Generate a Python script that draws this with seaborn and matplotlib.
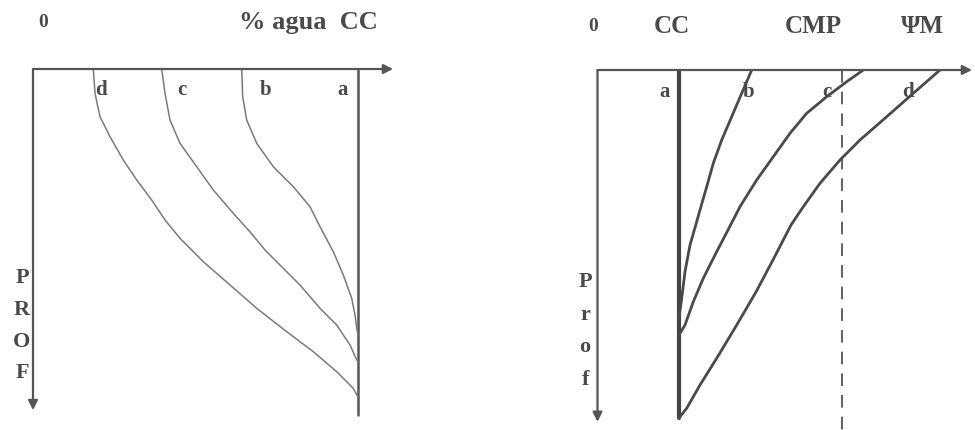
import matplotlib
matplotlib.use("Agg")
import numpy as np
import pandas as pd
import seaborn as sns
import matplotlib.pyplot as plt

# left panel: % water (CC = 100) vs depth (0-100)
left_d_x = [18.55, 19.08, 20.62, 23.69, 27.78, 31.91, 36.52, 40.62, 45.23, 52.40, 60.62,
            68.83, 78.06, 86.25, 93.45, 98.55, 100]
left_d_y = [0, 7.41, 14.54, 20.64, 27.74, 33.84, 39.94, 46.04, 51.62, 58.75, 65.85,
            72.96, 80.09, 86.19, 92.29, 97.35, 100]
left_c_x = [39.6, 40.62, 42.15, 45.23, 50.37, 55.48, 61.63, 67.08, 71.38, 76.0, 82.15,
            88.31, 93.45, 97.54, 99.38, 100]
left_c_y = [0, 7.41, 15.55, 22.65, 29.79, 36.89, 44.0, 50.0, 55.18, 59.76, 65.85,
            72.96, 78.05, 84.15, 88.20, 89.3]
left_b_x = [64.22, 64.52, 65.75, 68.83, 73.94, 80.09, 85.23, 88.31, 92.40, 95.48, 98.06,
            99.08, 99.6, 100]
left_b_y = [0, 8.45, 15.55, 22.65, 29.79, 35.88, 41.98, 48.08, 55.70, 62.80, 69.91,
            75.0, 79.05, 81.1]
left_cc = 100

# right panel: water potential (CC = 25, CMP = 75) vs depth (0-100)
right_b_x = [47.30, 44.23, 41.17, 38.10, 35.52, 33.50, 31.44, 29.88, 28.37, 26.84, 25.83, 25]
right_b_y = [0, 6.70, 13.42, 20.11, 26.81, 33.53, 40.23, 45.40, 50.29, 57.96, 65.60, 71.26]
right_c_x = [81.53, 76.44, 70.31, 64.17, 59.05, 53.93, 48.83, 43.71, 40.03, 36.56, 32.45,
             29.39, 26.84, 25]
right_c_y = [0, 3.36, 7.67, 12.44, 18.19, 24.91, 31.61, 39.28, 45.98, 52.21, 59.86,
             66.58, 73.28, 76.15]
right_d_x = [105.06, 96.87, 88.71, 80.52, 74.39, 68.25, 63.13, 59.36, 54.14, 48.62, 42.70,
             36.56, 31.44, 27.36, 25]
right_d_y = [0, 6.70, 13.42, 20.11, 25.86, 32.56, 39.28, 44.54, 54.02, 63.79, 73.28,
             82.84, 90.52, 97.21, 100]
right_cc = 25
right_cmp = 75

curve_labels = ["a", "b", "c", "d"]
left_label_x = [95.4, 71.4, 45.7, 20.9]
right_label_x = [20.7, 46.3, 70.4, 95.2]
left_axis_letters = ["P", "R", "O", "F"]
left_letter_y = [63.7, 73.5, 83.2, 92.7]
right_axis_letters = ["P", "r", "o", "f"]
right_letter_y = [60.9, 70.4, 79.6, 89.1]
right_top_labels = ["CC", "CMP", "ΨM"]
right_top_x = [22.9, 66.1, 99.8]

sns.set_style("white")
plt.rcParams['font.family'] = ['Liberation Serif', 'DejaVu Serif']

W, H = 975, 430
fig = plt.figure(figsize=(9.75, 4.3), dpi=100)

def make_ax(x0, y0, sx, sy, xmax, ymax):
    ax = fig.add_axes([x0 / W, 1 - (y0 + ymax * sy) / H, xmax * sx / W, ymax * sy / H])
    ax.set_xlim(0, xmax)
    ax.set_ylim(ymax, 0)
    ax.axis('off')
    return ax

line_col = '#7a7a7a'
text_col = '#4a4a4a'

def axis_arrows(ax, xtip, ytip):
    ap = dict(arrowstyle='-|>', color='#555555', lw=1.6, mutation_scale=14, shrinkA=0, shrinkB=0)
    ax.annotate('', xy=(xtip, 0), xytext=(0, 0), arrowprops=ap, annotation_clip=False)
    ax.annotate('', xy=(0, ytip), xytext=(0, 0), arrowprops=ap, annotation_clip=False)

def curve(ax, xs, ys, **kw):
    sns.lineplot(x=xs, y=ys, sort=False, estimator=None, ax=ax,
                 solid_joinstyle='round', solid_capstyle='round', **kw)

# ---- left panel
axL = make_ax(33, 69, 3.25, 3.28, 111, 106)
axis_arrows(axL, 110.8, 104)
curve(axL, [left_cc, left_cc], [0, 105.5], color='#555555', lw=1.8)
for xs, ys in [(left_b_x, left_b_y), (left_c_x, left_c_y), (left_d_x, left_d_y)]:
    curve(axL, xs, ys, color=line_col, lw=1.1)
for lab, lx in zip(curve_labels, left_label_x):
    axL.text(lx, 6.4, lab, ha='center', va='center', fontsize=15, color=text_col, fontweight='bold')
for lab, ly in zip(left_axis_letters, left_letter_y):
    axL.text(-3.4, ly, lab, ha='center', va='center', fontsize=16, color=text_col,
             fontweight='bold', clip_on=False)
axL.text(3.1, -14.3, "0", ha='center', va='center', fontsize=14, color=text_col,
         fontweight='bold', clip_on=False)
axL.text(106.2, -14.3, "% agua  CC", ha='right', va='center', fontsize=19, color=text_col,
         fontweight='bold', clip_on=False)

# ---- right panel
axR = make_ax(597.5, 70, 3.26, 3.48, 116, 103.4)
axis_arrows(axR, 114.9, 101.1)
curve(axR, [right_cc, right_cc], [0, 100], color='#444444', lw=3.0)
sns.lineplot(x=[right_cmp, right_cmp], y=[0, 103.4], sort=False, estimator=None, ax=axR,
             color='#555555', lw=1.3, linestyle=(0, (7, 5)))
for xs, ys in [(right_b_x, right_b_y), (right_c_x, right_c_y), (right_d_x, right_d_y)]:
    curve(axR, xs, ys, color='#4a4a4a', lw=2.0)
for lab, lx in zip(curve_labels, right_label_x):
    axR.text(lx, 6.4, lab, ha='center', va='center', fontsize=15, color=text_col, fontweight='bold')
for lab, ly in zip(right_axis_letters, right_letter_y):
    axR.text(-3.8, ly, lab, ha='center', va='center', fontsize=16, color=text_col,
             fontweight='bold', clip_on=False)
axR.text(-1.4, -12.6, "0", ha='center', va='center', fontsize=14, color=text_col,
         fontweight='bold', clip_on=False)
for lab, tx in zip(right_top_labels, right_top_x):
    axR.text(tx, -12.6, lab, ha='center', va='center', fontsize=18, color=text_col,
             fontweight='bold', clip_on=False)

fig.savefig('out.png', dpi=100)
